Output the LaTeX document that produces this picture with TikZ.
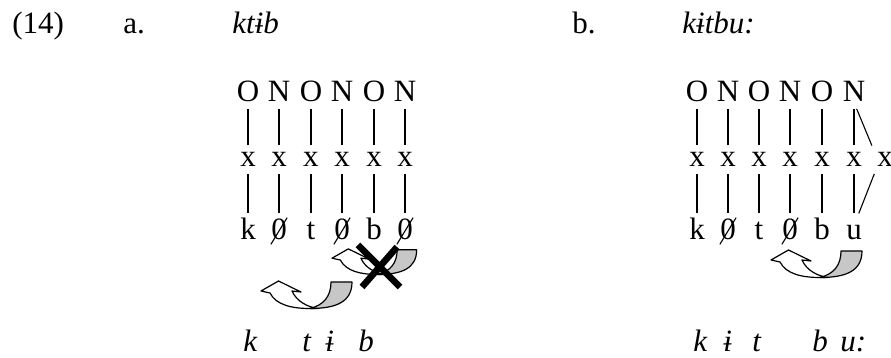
\documentclass[tikz,border=0pt]{standalone}
\usepackage{fontspec}
\setmainfont{Liberation Serif}
\usetikzlibrary{calc}
\newcommand\diagfont{\fontsize{15.5}{18}\selectfont}
\tikzset{
  tier/.style={anchor=base, inner sep=0pt, text height=0.7em, text depth=0pt},
  xtier/.style={tier, text height=0.45em},
  bar/.style={line width=0.55pt, shorten <=3.5pt, shorten >=6.5pt},
  slash/.style={line width=0.55pt},
  gloss/.style={anchor=base west, inner sep=0pt, font=\diagfont\itshape},
  label/.style={anchor=base west, inner sep=0pt}
}
% u-turn block arrow, origin at the bottom of the bend
\def\turnarrow(#1,#2,#3){%
  \begin{scope}[shift={(#1,#2)}, scale=#3, line width=0.6pt, line join=round]
    \draw[fill=white] (-49,-17) -- (-40,-15) .. controls (-34,-3) and (-18,0.5) .. (0,0.5)
      -- (8,0.5) .. controls (-2,-1) and (-13,-6) .. (-18,-17) -- (-9,-16) -- (-31.5,-27) -- cycle;
    \draw[fill=black!22] (21,-26) -- (42,-26) .. controls (42,-6) and (26,0.5) .. (0,0.5)
      .. controls (14,-3) and (21,-12) .. (21,-26) -- cycle;
  \end{scope}}

\begin{document}
\begin{tikzpicture}[x=0.5pt, y=-0.5pt, font=\diagfont]
  \useasboundingbox (0,0) rectangle (891,358);
  %%%%% header %%%%%
  \node[label] (num) at (12,34) {(14)};
  \node[label] (la) at (123,34) {a.};
  \node[gloss] (fa) at (232,34) {ktɨb};
  \node[label] (lb) at (572,34) {b.};
  \node[gloss] (fb) at (682,34) {kɨtbu:};

  %%%%% (a) %%%%%
  \foreach \c/\o/\s [count=\i] in {248/O/k, 279/N/0, 311/O/t, 342/N/0, 374/O/b, 405/N/0} {
    \node[tier] (ao\i) at (\c,102) {\o};
    \node[xtier] (ax\i) at (\c,167) {x};
    \node[tier] (as\i) at (\c,240) {\s};
    \draw[bar] (ao\i) -- (ax\i);
    \draw[bar] (ax\i) -- (as\i);
  }
  \turnarrow(310,308,1)
  \turnarrow(377.6,274,0.93)
  \draw[line width=3.3pt] (358,245) -- (400,287);
  \draw[line width=3.3pt] (397,247) -- (362,287);
  \node[gloss] (ga1) at (243,352) {k};
  \node[gloss] (ga2) at (302,352) {t};
  \node[gloss] (ga3) at (325,352) {ɨ};
  \node[gloss] (ga4) at (358,352) {b};

  %%%%% (b) %%%%%
  \foreach \c/\o/\s [count=\i] in {697/O/k, 728/N/0, 759/O/t, 790/N/0, 822/O/b, 854/N/u} {
    \node[tier] (bo\i) at (\c,102) {\o};
    \node[xtier] (bx\i) at (\c,167) {x};
    \node[tier] (bs\i) at (\c,240) {\s};
    \draw[bar] (bo\i) -- (bx\i);
    \draw[bar] (bx\i) -- (bs\i);
  }
  \node[xtier] (bx7) at (885,167) {x};
  \draw[bar] (bo6.south) -- (bx7.north west);
  \draw[bar] (bx7.south west) -- (bs6.north);
  \turnarrow(820,277,1)
  \node[gloss] (gb1) at (693,352) {k};
  \node[gloss] (gb2) at (723,352) {ɨ};
  \node[gloss] (gb3) at (752,352) {t};
  \node[gloss] (gb4) at (812,352) {b};
  \node[gloss] (gb5) at (840,352) {u:};

  % slashed zeros
  \foreach \n in {as2, as4, as6, bs2, bs4}
    \draw[slash] ($(\n.south west)+(0,4)$) -- ($(\n.north east)+(0,-8)$);
\end{tikzpicture}
\end{document}
